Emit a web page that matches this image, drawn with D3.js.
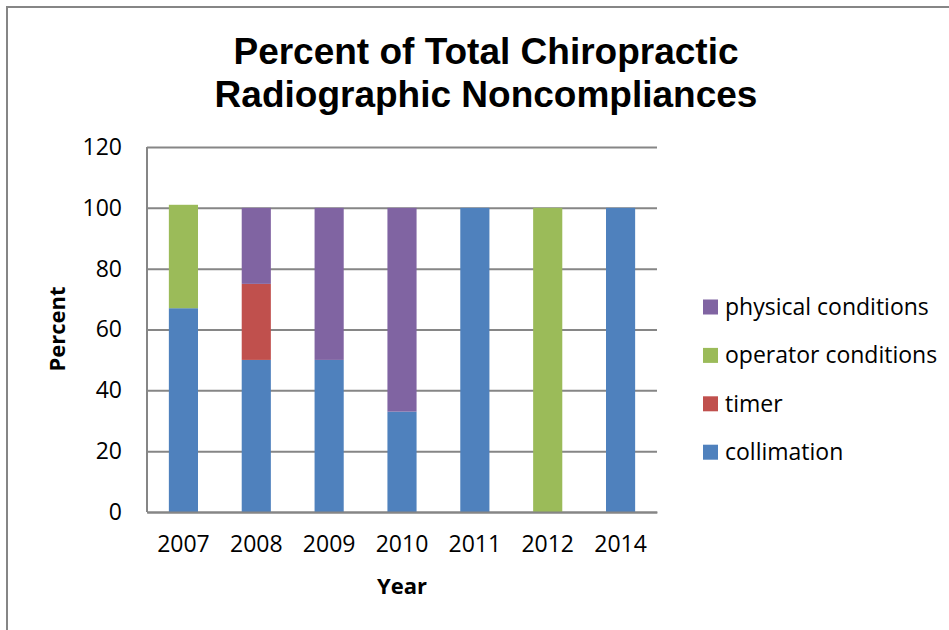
<!DOCTYPE html>
<html>
<head>
<meta charset="utf-8">
<script src="https://cdn.jsdelivr.net/npm/d3@7"></script>
<style>
  body { margin: 0; background: #fff; }
  .tick text { font-family: "Open Sans", sans-serif; font-size: 23px; fill: #000; }
</style>
</head>
<body>
<div id="canvas"></div>
<script>
// data
var years = ['2007','2008','2009','2010','2011','2012','2014'];
var seriesNames = ['collimation','timer','operator conditions','physical conditions'];
var collimation = [67, 50, 50, 33, 100, 0, 100];
var timer = [0, 25, 0, 0, 0, 0, 0];
var operatorConditions = [34, 0, 0, 0, 0, 100, 0];
var physicalConditions = [0, 25, 50, 67, 0, 0, 0];
var colors = ['#4F81BD','#C0504D','#9BBB59','#8064A2'];
var yTicks = [0, 20, 40, 60, 80, 100, 120];

var W = 949, H = 630;
var m = {t:147, r:292, b:118, l:147};
var w = W - m.l - m.r, h = H - m.t - m.b;

var svg = d3.select('#canvas').append('svg')
  .attr('width', W).attr('height', H);

// outer chart border
svg.append('rect')
  .attr('x', 7).attr('y', 7)
  .attr('width', W + 10).attr('height', H + 10)
  .attr('fill', 'none').attr('stroke', '#868686').attr('stroke-width', 2);

var plot = svg.append('g')
  .attr('transform', 'translate(' + m.l + ',' + m.t + ')');

var rows = years.map(function(y, i){
  return {
    year: y,
    'collimation': collimation[i],
    'timer': timer[i],
    'operator conditions': operatorConditions[i],
    'physical conditions': physicalConditions[i]
  };
});

var scaleX = d3.scaleBand().domain(years).range([0, w]).paddingInner(0.6).paddingOuter(0.3);
var scaleY = d3.scaleLinear().domain([0, 120]).range([h, 0]);
var color = d3.scaleOrdinal().domain(seriesNames).range(colors);

// gridlines
var axisY = d3.axisLeft(scaleY).tickValues(yTicks).tickSize(-w).tickPadding(25);
var gy = plot.append('g').attr('class','yAxis').call(axisY);
gy.select('.domain').remove();
gy.selectAll('.tick line').attr('stroke', '#868686').attr('stroke-width', 2);

// stacked bars
var stack = d3.stack().keys(seriesNames)(rows);
plot.selectAll('g.layer')
  .data(stack)
  .enter().append('g')
  .attr('class','layer')
  .attr('fill', function(d){ return color(d.key); })
  .selectAll('rect')
  .data(function(d){ return d; })
  .enter().append('rect')
  .filter(function(d){ return d[1] - d[0] > 0; })
  .attr('x', function(d){ return scaleX(d.data.year); })
  .attr('width', scaleX.bandwidth())
  .attr('y', function(d){ return scaleY(d[1]); })
  .attr('height', function(d){ return scaleY(d[0]) - scaleY(d[1]); });

// y axis line (left) and x axis
plot.append('line').attr('x1',0).attr('x2',0).attr('y1',0).attr('y2',h)
  .attr('stroke','#868686').attr('stroke-width',2);
var axisX = d3.axisBottom(scaleX).tickSize(0).tickPadding(24);
var gx = plot.append('g').attr('class','xAxis')
  .attr('transform','translate(0,' + h + ')').call(axisX);
gx.select('.domain').attr('stroke','#868686').attr('stroke-width',2);

// title
var title = svg.append('text')
  .attr('text-anchor','middle')
  .attr('font-family','"Liberation Sans", Arial, sans-serif')
  .attr('font-weight','bold')
  .attr('font-size','37px');
title.append('tspan').attr('x', 486).attr('y', 64).text('Percent of Total Chiropractic');
title.append('tspan').attr('x', 486).attr('y', 107).text('Radiographic Noncompliances');

// axis titles
svg.append('text')
  .attr('transform','translate(65,329) rotate(-90)')
  .attr('text-anchor','middle')
  .attr('font-family','"Open Sans", sans-serif').attr('font-weight','bold').attr('font-size','22px')
  .text('Percent');
svg.append('text')
  .attr('x', 402).attr('y', 594)
  .attr('text-anchor','middle')
  .attr('font-family','"Open Sans", sans-serif').attr('font-weight','bold').attr('font-size','22px')
  .text('Year');

// legend (reverse order, top to bottom)
var legendItems = seriesNames.slice().reverse();
var legend = svg.selectAll('g.legend')
  .data(legendItems)
  .enter().append('g')
  .attr('class','legend')
  .attr('transform', function(d, i){ return 'translate(703,' + (307 + i * 48.4) + ')'; });
legend.append('rect')
  .attr('x', 0).attr('y', -7.5).attr('width', 15).attr('height', 15)
  .attr('fill', function(d){ return color(d); });
legend.append('text')
  .attr('x', 22).attr('y', 0).attr('dy','0.35em')
  .attr('font-family','"Open Sans", sans-serif').attr('font-size','23px')
  .text(function(d){ return d; });
</script>
</body>
</html>
